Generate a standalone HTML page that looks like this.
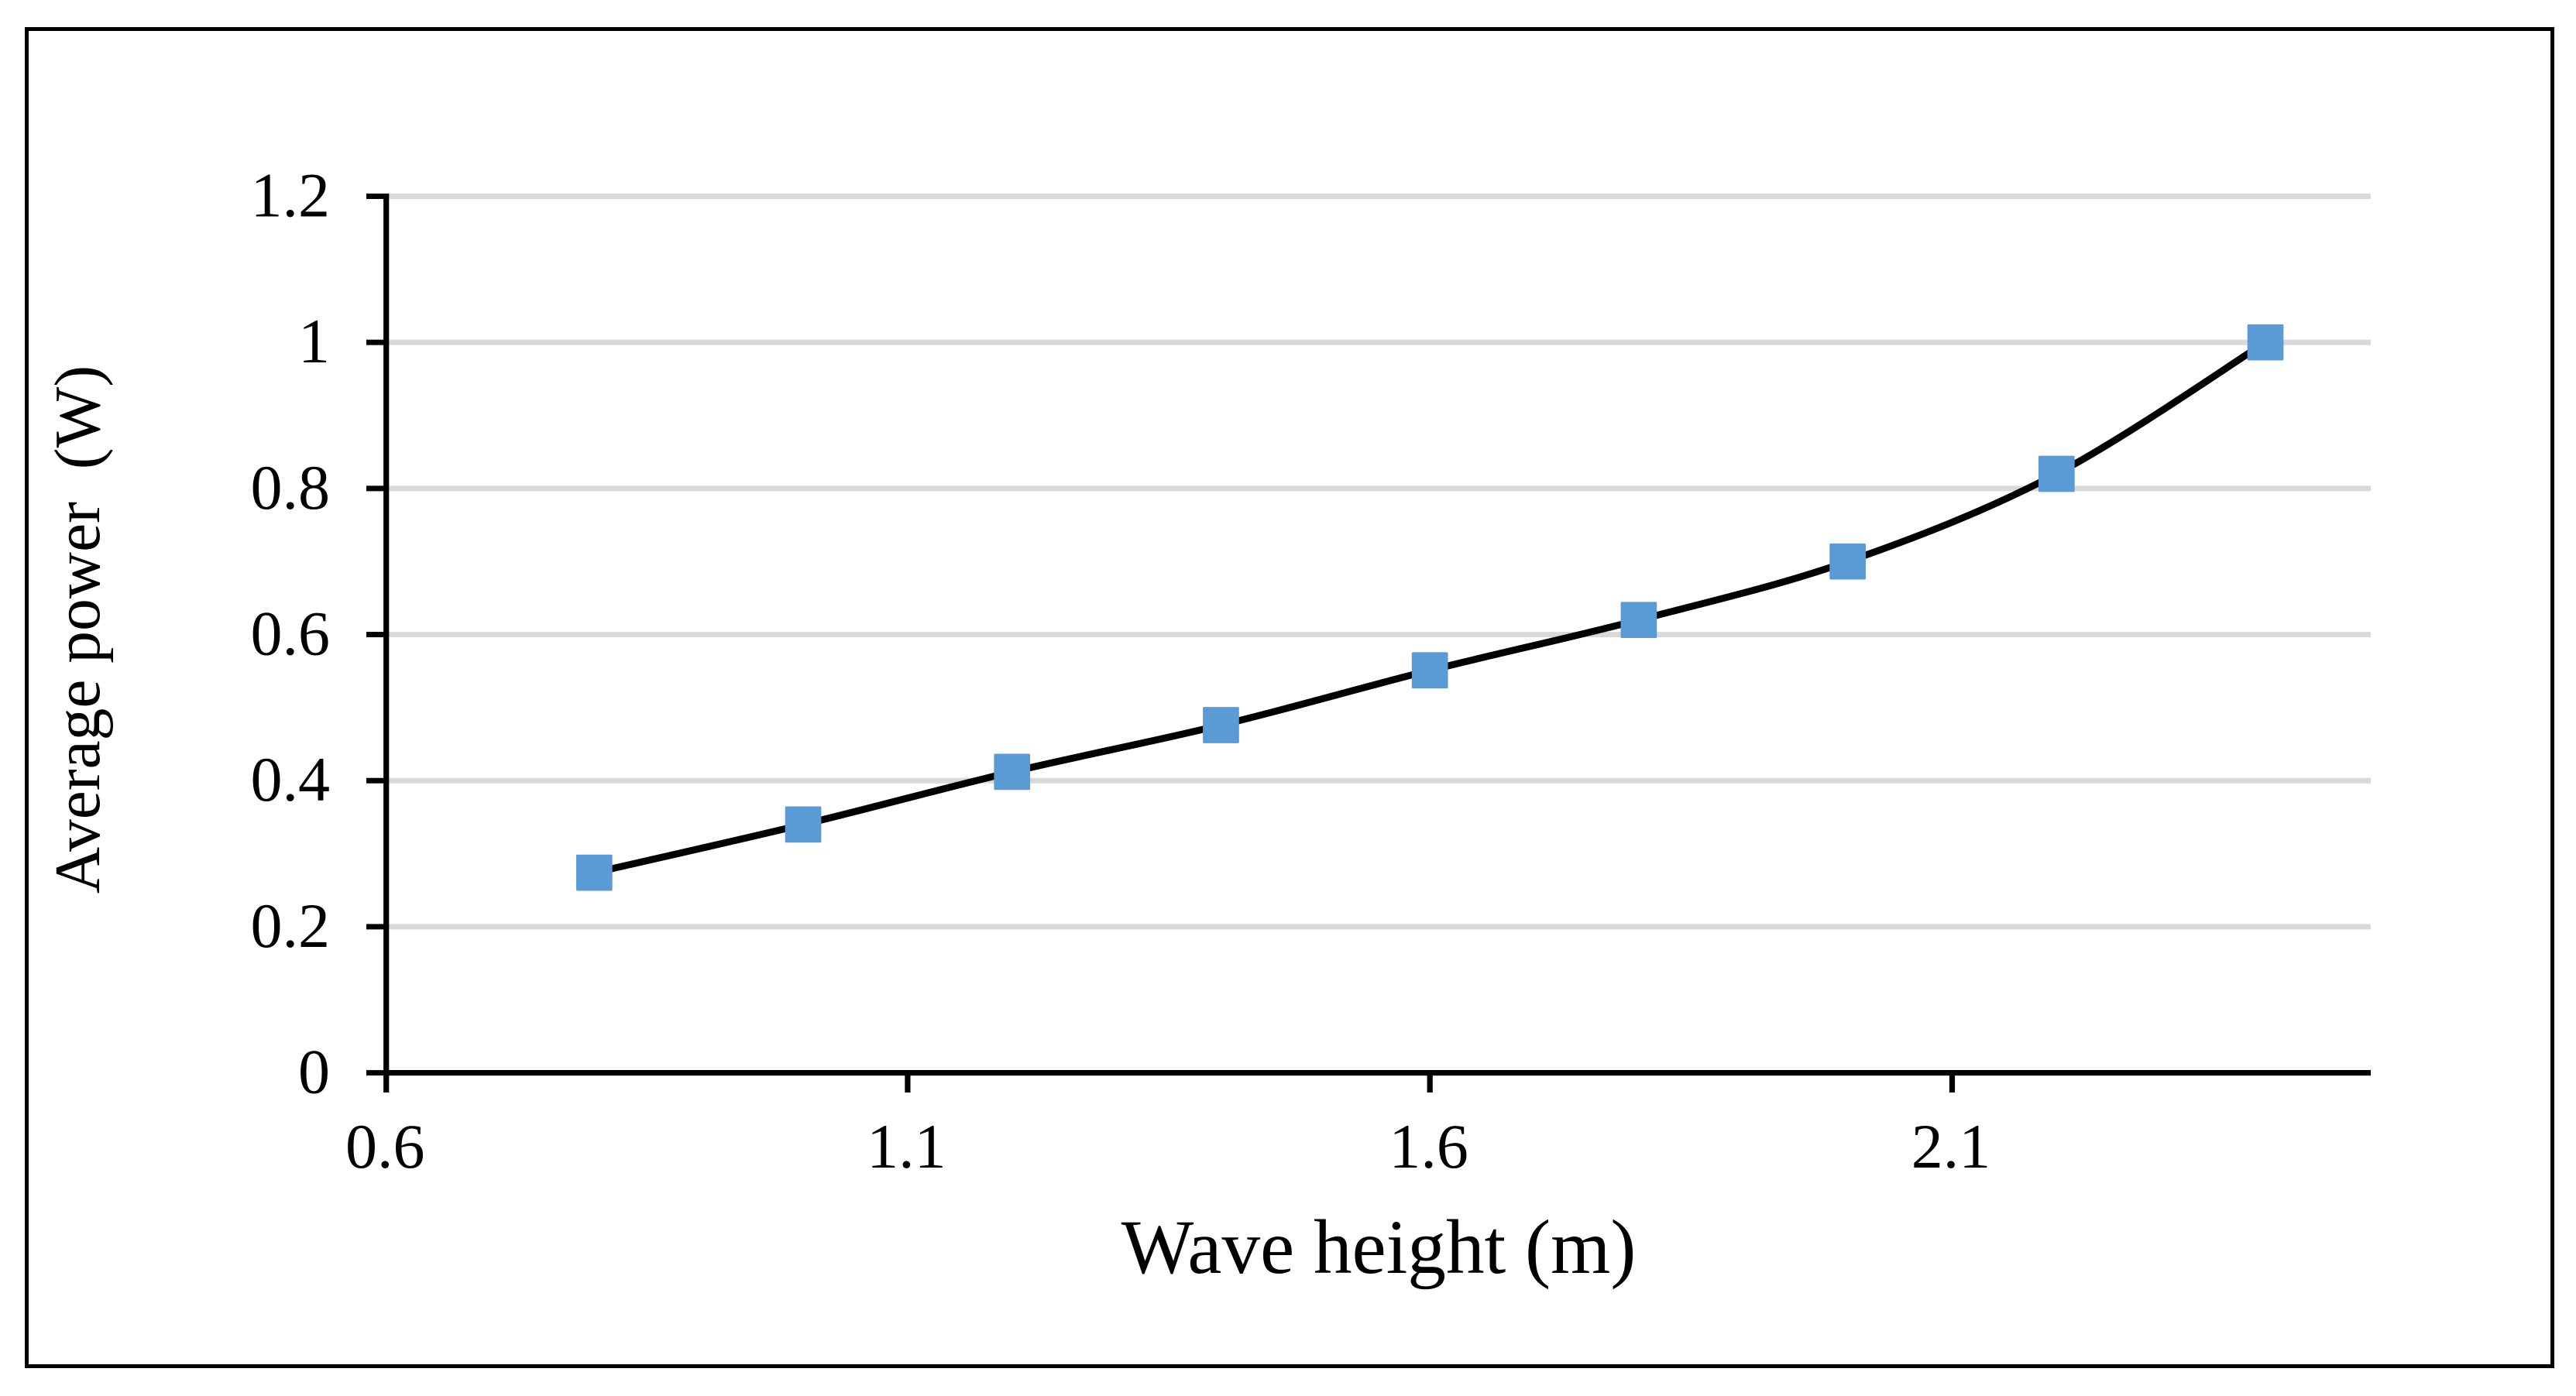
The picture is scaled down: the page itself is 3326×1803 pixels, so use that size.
<!DOCTYPE html>
<html lang="en">
<head>
<meta charset="utf-8">
<title>Average power vs wave height</title>
<style>
  html, body { margin: 0; padding: 0; background: #ffffff; }
  body { width: 3326px; height: 1803px; overflow: hidden; }
  svg { display: block; }
  text { font-family: "Liberation Serif", "Times New Roman", serif; fill: #000000; }
</style>
</head>
<body>
<svg id="chart" xmlns="http://www.w3.org/2000/svg" width="3326" height="1803" viewBox="0 0 3326 1803">
  <rect x="0" y="0" width="3326" height="1803" fill="#ffffff"/>
  <rect x="34.5" y="37.5" width="3261" height="1727" fill="none" stroke="#000000" stroke-width="5"/>
  <g id="gridlines"></g>
  <g id="axes"></g>
  <g id="y-tick-labels"></g>
  <g id="x-tick-labels"></g>
  <path id="series-line" fill="none" stroke="#000000" stroke-width="9" stroke-linejoin="round"/>
  <g id="markers"></g>
  <text x="1780" y="1644" font-size="99.3" text-anchor="middle">Wave height (m)</text>
  <text transform="translate(128 813) rotate(-90)" font-size="83.5" text-anchor="middle" xml:space="preserve">Average power  (W)</text>
</svg>
<script>
const waveHeights = [0.8, 1.0, 1.2, 1.4, 1.6, 1.8, 2.0, 2.2, 2.4];
const averagePower = [0.274, 0.34, 0.412, 0.476, 0.551, 0.62, 0.70, 0.82, 1.0];
const yTicks = [0, 0.2, 0.4, 0.6, 0.8, 1, 1.2];
const xTicks = [0.6, 1.1, 1.6, 2.1];

const NS = 'http://www.w3.org/2000/svg';
const xMin = 0.6, xMax = 2.5, yMin = 0, yMax = 1.2;
const plotLeft = 497.6, plotRight = 3059.9, plotBottom = 1385.6, plotTop = 253.5;

function xScale(v) { return plotLeft + (v - xMin) / (xMax - xMin) * (plotRight - plotLeft); }
function yScale(v) { return plotBottom - (v - yMin) / (yMax - yMin) * (plotBottom - plotTop); }

function make(tag, attrs, parent) {
  const el = document.createElementNS(NS, tag);
  for (const k in attrs) el.setAttribute(k, attrs[k]);
  parent.appendChild(el);
  return el;
}

const gridG = document.getElementById('gridlines');
const axesG = document.getElementById('axes');
const yLabelG = document.getElementById('y-tick-labels');
const xLabelG = document.getElementById('x-tick-labels');
const markerG = document.getElementById('markers');
const axisX = xScale(xMin) + 1.1;
const gridEnd = 3061;

yTicks.forEach(function (t) {
  const y = yScale(t);
  if (t !== yMin) {
    const g = make('rect', { x: axisX, y: y - 3.5, width: gridEnd - axisX, height: 7, fill: '#D9D9D9' }, gridG);
    
    
  }
  const tick = make('rect', { x: 473, y: y - 3.5, width: axisX - 473, height: 7, fill: '#000000' }, axesG);
  
  
  const label = make('text', { x: 426, y: y + 26, 'font-size': 82, 'text-anchor': 'end' }, yLabelG);
  label.textContent = String(t);
  
  
});

const yAxisLine = make('rect', { x: axisX - 3.6, y: yScale(yMax) - 3.5, width: 7.2, height: 1411 - yScale(yMax) + 3.5, fill: '#000000' }, axesG);



const xAxisLine = make('rect', { x: axisX, y: yScale(yMin) - 3.6, width: gridEnd - axisX, height: 7.2, fill: '#000000' }, axesG);



xTicks.forEach(function (t) {
  const x = t === xMin ? axisX : xScale(t);
  if (t !== xMin) {
    const tick = make('rect', { x: x - 3.6, y: yScale(yMin), width: 7.2, height: 1411 - yScale(yMin), fill: '#000000' }, axesG);
    
    
  }
  const label = make('text', { x: x - 1.5, y: 1508, 'font-size': 82, 'text-anchor': 'middle' }, xLabelG);
  label.textContent = t.toFixed(1);
  
  
});

const pts = waveHeights.map(function (h, i) { return [xScale(h), yScale(averagePower[i])]; });
let d = 'M' + pts[0][0].toFixed(2) + ' ' + pts[0][1].toFixed(2);
for (let i = 0; i < pts.length - 1; i++) {
  const p0 = pts[Math.max(0, i - 1)], p1 = pts[i], p2 = pts[i + 1], p3 = pts[Math.min(pts.length - 1, i + 2)];
  const c1x = p1[0] + (p2[0] - p0[0]) / 6, c1y = p1[1] + (p2[1] - p0[1]) / 6;
  const c2x = p2[0] - (p3[0] - p1[0]) / 6, c2y = p2[1] - (p3[1] - p1[1]) / 6;
  d += ' C' + c1x.toFixed(2) + ' ' + c1y.toFixed(2) + ' ' + c2x.toFixed(2) + ' ' + c2y.toFixed(2) + ' ' + p2[0].toFixed(2) + ' ' + p2[1].toFixed(2);
}
document.getElementById('series-line').setAttribute('d', d);

const markerSize = 46.7;
pts.forEach(function (p) {
  const m = make('rect', { x: p[0] - markerSize / 2, y: p[1] - markerSize / 2, width: markerSize, height: markerSize, rx: 1.5, ry: 1.5, fill: '#5B9BD5' }, markerG);
  
  
});
</script>
</body>
</html>
